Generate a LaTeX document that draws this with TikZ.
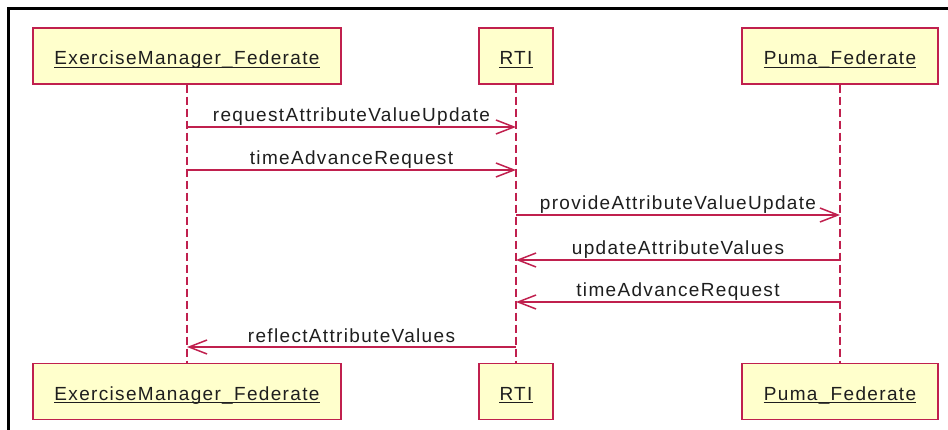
\documentclass[tikz,border=0pt]{standalone}
\usepackage{fontspec}
\setmainfont{Liberation Sans}[LetterSpace=7]
\usetikzlibrary{arrows.meta,calc}
\definecolor{umlred}{RGB}{192,32,78}
\definecolor{umlfill}{RGB}{255,255,204}
\definecolor{txt}{RGB}{30,30,30}
\tikzset{
  objbox/.style={draw=umlred, fill=umlfill, line width=1.5pt, minimum height=56pt, inner sep=0pt},
  objtext/.style={anchor=base, inner sep=0pt, text=txt, font=\fontsize{19}{22}\selectfont},
  uline/.style={draw=txt, line width=1.1pt},
  lifeline/.style={draw=umlred, line width=1.5pt, dash pattern=on 8pt off 4pt},
  msg/.style={draw=umlred, line width=1.5pt, -{Straight Barb[length=18pt, width=14pt, line width=1.5pt]}},
  msglabel/.style={anchor=base, inner sep=0pt, text=txt, font=\fontsize{19}{22}\selectfont},
}
\newcommand{\objnode}[5]{% name, x center, y center, width, text
  \node[objbox, minimum width=#4pt] (#1) at (#2,#3) {};
  \node[objtext] (#1t) at (#2,#3+8.5) {#5};
  \draw[uline] ([yshift=-2.6pt]#1t.base west) -- ([yshift=-2.6pt]#1t.base east);
}
\begin{document}
\begin{tikzpicture}[x=1pt,y=-1pt]
\useasboundingbox (0,0) rectangle (948,430);
% frame
\draw[line width=3pt] (8.3,430) -- (8.3,8.3) -- (948,8.3);
% objects top
\objnode{emT}{187}{56}{308}{ExerciseManager\_Federate}
\objnode{rtiT}{516}{56}{74}{RTI}
\objnode{pumaT}{840}{56}{196}{Puma\_Federate}
% objects bottom
\objnode{emB}{187}{391.5}{308}{ExerciseManager\_Federate}
\objnode{rtiB}{516}{391.5}{74}{RTI}
\objnode{pumaB}{840}{391.5}{196}{Puma\_Federate}
% lifelines
\draw[lifeline] (emT.south) -- (emB.north);
\draw[lifeline] (rtiT.south) -- (rtiB.north);
\draw[lifeline] (pumaT.south) -- (pumaB.north);
% message anchor points
\foreach \n/\y in {1/127,2/170,3/215,4/260,5/302,6/347}{
  \coordinate (em\n) at (emT.south |- 0,\y);
  \coordinate (rti\n) at (rtiT.south |- 0,\y);
  \coordinate (puma\n) at (pumaT.south |- 0,\y);
}
% messages
\draw[msg] (em1) -- (rti1);
\node[msglabel] (l1) at ($(em1)!0.5!(rti1)+(0,-5)$) {requestAttributeValueUpdate};
\draw[msg] (em2) -- (rti2);
\node[msglabel] (l2) at ($(em2)!0.5!(rti2)+(0,-5)$) {timeAdvanceRequest};
\draw[msg] (rti3) -- (puma3);
\node[msglabel] (l3) at ($(rti3)!0.5!(puma3)+(0,-5)$) {provideAttributeValueUpdate};
\draw[msg] (puma4) -- (rti4);
\node[msglabel] (l4) at ($(rti4)!0.5!(puma4)+(0,-5)$) {updateAttributeValues};
\draw[msg] (puma5) -- (rti5);
\node[msglabel] (l5) at ($(rti5)!0.5!(puma5)+(0,-5)$) {timeAdvanceRequest};
\draw[msg] (rti6) -- (em6);
\node[msglabel] (l6) at ($(em6)!0.5!(rti6)+(0,-5)$) {reflectAttributeValues};
\end{tikzpicture}
\end{document}
